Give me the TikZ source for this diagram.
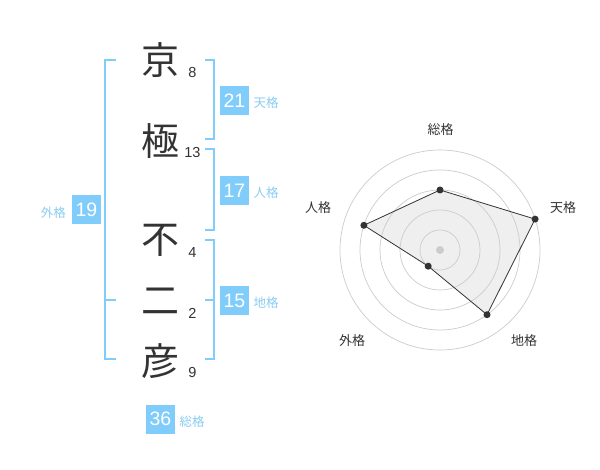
\documentclass[tikz,border=0pt]{standalone}
\usepackage{fontspec}
\setmainfont{Liberation Sans}
\newfontfamily\cjk{Noto Sans CJK JP}
\definecolor{kcol}{HTML}{333333}
\definecolor{bcol}{HTML}{80CCFA}
\definecolor{lcol}{HTML}{8ACDF2}
\definecolor{ringcol}{HTML}{CCCCCC}
\definecolor{fillcol}{HTML}{EFEFEF}
\begin{document}
\begin{tikzpicture}[x=1pt,y=-1pt,
  kanji/.style={text=kcol,font=\cjk\fontsize{38}{38}\selectfont,inner sep=0pt},
  strokes/.style={text=kcol,font=\fontsize{14.5}{14.5}\selectfont,inner sep=0pt},
  brk/.style={draw=bcol,line width=2pt},
  numbox/.style={fill=bcol,text=white,minimum width=29pt,minimum height=29pt,inner sep=0pt,font=\fontsize{19.5}{19.5}\selectfont},
  kaku/.style={text=lcol,font=\cjk\fontsize{12.5}{12.5}\selectfont,inner sep=0pt},
  axlab/.style={text=kcol,font=\cjk\fontsize{13}{13}\selectfont,inner sep=0pt},
  ring/.style={draw=ringcol,line width=0.7pt},
  dot/.style={circle,fill=kcol,inner sep=0pt,minimum size=7pt}
]
\useasboundingbox (0,0) rectangle (600,470);
\fill[white] (0,0) rectangle (600,470);
% kanji
\node[kanji] (k1) at (160,60) {京};
\node[kanji] (k2) at (160,141) {極};
\node[kanji] (k3) at (160,240) {不};
\node[kanji] (k4) at (160,301) {二};
\node[kanji] (k5) at (160,361) {彦};
\node[strokes] (s1) at (192.5,73) {8};
\node[strokes] (s2) at (192.5,153) {13};
\node[strokes] (s3) at (192.5,253) {4};
\node[strokes] (s4) at (192.5,313) {2};
\node[strokes] (s5) at (192.5,373) {9};
% brackets
\draw[brk] (115.5,60) -- (105,60) -- (105,359) -- (115.5,359);
\draw[brk] (105,300) -- (115.5,300);
\draw[brk] (205,60) -- (214,60) -- (214,139) -- (205,139);
\draw[brk] (205,149) -- (214,149) -- (214,230) -- (205,230);
\draw[brk] (205,240) -- (214,240) -- (214,359) -- (205,359);
\draw[brk] (205,300) -- (214,300);
% boxes
\node[numbox] (ten) at (234.5,100.5) {21};
\node[kaku,anchor=west] (tenl) at (253.5,103) {天格};
\node[numbox] (jin) at (234.5,190.5) {17};
\node[kaku,anchor=west] (jinl) at (253.5,193) {人格};
\node[numbox] (chi) at (234.5,300.5) {15};
\node[kaku,anchor=west] (chil) at (253.5,303) {地格};
\node[numbox] (gai) at (86.5,210) {19};
\node[kaku,anchor=east] (gail) at (66,213) {外格};
\node[numbox] (sou) at (160.5,419) {36};
\node[kaku,anchor=west] (soul) at (179.5,422) {総格};
% radar
\coordinate (c) at (440,250);
\coordinate (p1) at (440,190);
\coordinate (p2) at (535.1,219.1);
\coordinate (p3) at (487.0,314.7);
\coordinate (p4) at (428.2,266.2);
\coordinate (p5) at (363.9,225.3);
\fill[fillcol] (p1) -- (p2) -- (p3) -- (p4) -- (p5) -- cycle;
\foreach \r in {20,40,60,80,100} \draw[ring] (c) circle[radius=\r];
\draw[kcol,line width=0.8pt] (p1) -- (p2) -- (p3) -- (p4) -- (p5) -- cycle;
\fill[ringcol] (c) circle[radius=4];
\foreach \p in {p1,p2,p3,p4,p5} \node[dot] at (\p) {};
\node[axlab] (a1) at (440.5,130) {総格};
\node[axlab] (a2) at (563,208) {天格};
\node[axlab] (a3) at (524,341) {地格};
\node[axlab] (a4) at (352,341) {外格};
\node[axlab] (a5) at (318,208) {人格};
\end{tikzpicture}
\end{document}
